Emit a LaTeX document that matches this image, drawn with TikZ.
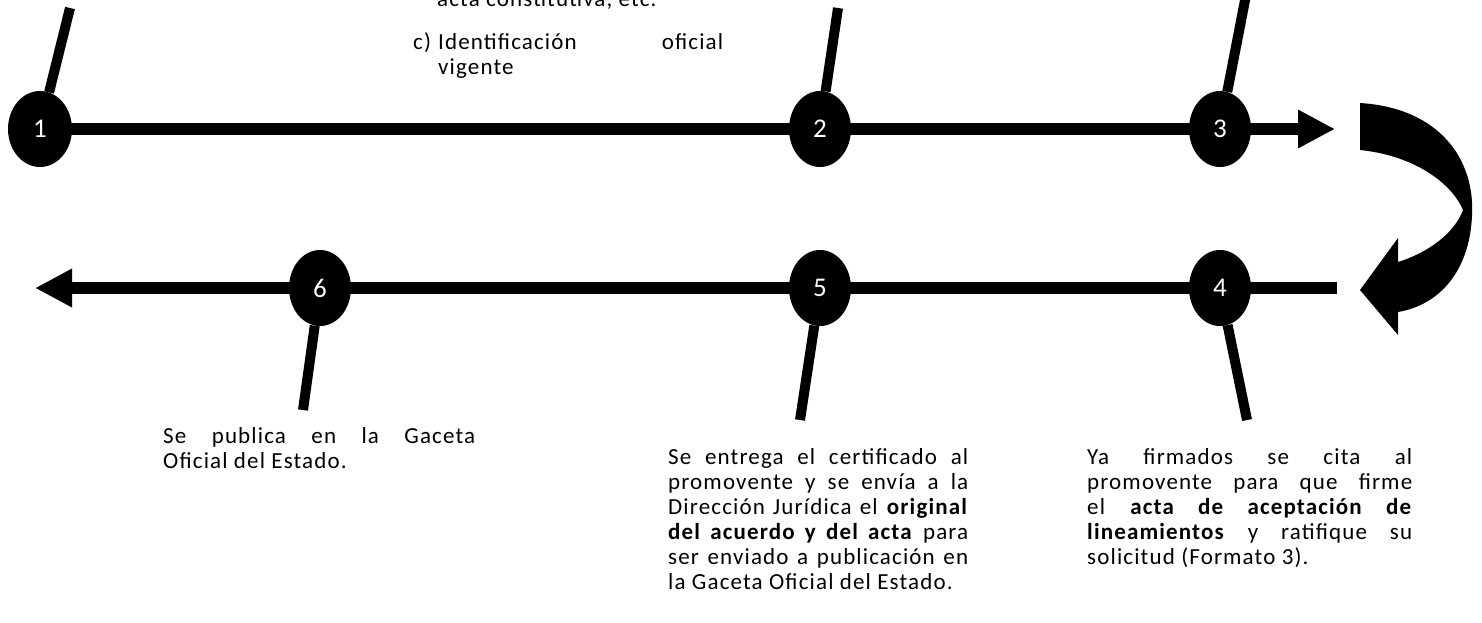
\documentclass[tikz,border=0pt]{standalone}
\usepackage{fontspec}
\setmainfont{Carlito}[LetterSpace=5]
\newfontfamily\digitfont{Carlito}
\usetikzlibrary{arrows.meta,shapes.geometric,backgrounds}
\hyphenpenalty=10000
\exhyphenpenalty=10000
\newcommand{\descfont}{\fontsize{23}{25}\selectfont}
\begin{document}
\begin{tikzpicture}[x=1pt,y=-1pt,
  stepdot/.style={ellipse,fill=black,text=white,inner sep=0pt,minimum width=62pt,minimum height=76pt,font=\digitfont\fontsize{27}{27}\selectfont},
  mainline/.style={line width=12pt,-{Triangle[length=37pt,width=36pt]}},
  stick/.style={line width=10pt},
  desc/.style={anchor=north west,inner sep=0pt,align=justify,font=\descfont}]
\useasboundingbox (0,0) rectangle (1482,622);
% step nodes
\node[stepdot,minimum width=64pt] (n1) at (40,129) {1};
\node[stepdot] (n2) at (820,129) {2};
\node[stepdot] (n3) at (1220,129) {3};
\node[stepdot] (n4) at (1220,288) {4};
\node[stepdot] (n5) at (820,288) {5};
\node[stepdot] (n6) at (320,288) {6};
% coordinates
\coordinate (ttip) at (1335,129);
\coordinate (bstart) at (1337,288);
\coordinate (btip) at (35,288);
\coordinate (s1) at (70,8);
\coordinate (s2) at (838,8);
\coordinate (s3) at (1247,-10);
\coordinate (s4) at (1247,420);
\coordinate (s5) at (800,420);
\coordinate (s6) at (303,410);
\begin{scope}[on background layer]
\draw[mainline] (n1.center) -- (ttip);
\draw[mainline] (bstart) -- (btip);
\end{scope}
% sticks
\draw[stick] (n1) -- (s1);
\draw[stick] (n2) -- (s2);
\draw[stick] (n3) -- (s3);
\draw[stick] (n4) -- (s4);
\draw[stick] (n5) -- (s5);
\draw[stick] (n6) -- (s6);
% curved arrow
\fill[black] (1360,103) .. controls (1440,108) and (1475,160) .. (1472,215)
  .. controls (1470,270) and (1440,305) .. (1398,312)
  -- (1398,335) -- (1360,290) -- (1398,238) -- (1398,262)
  .. controls (1430,252) and (1455,232) .. (1463,210)
  .. controls (1450,180) and (1410,155) .. (1360,150) -- cycle;
% texts
\node[desc,anchor=base west] (tcut) at (437,6) {acta constitutiva, etc.};
\node[desc,anchor=base west] (tc) at (413,49) {c)};
\node[desc,text width=285pt] (ttop) at (438,33) {Identificación oficial\linebreak vigente};
\node[desc,text width=312pt] (t6) at (163,427) {Se publica en la Gaceta\linebreak Oficial del Estado.};
\node[desc,text width=300pt] (t5) at (668,448) {Se entrega el certificado al\linebreak promovente y se envía a la\linebreak Dirección Jurídica el \textbf{original}\linebreak \textbf{del acuerdo y del acta} para\linebreak ser enviado a publicación en\linebreak la Gaceta Oficial del Estado.};
\node[desc,text width=325pt] (t4) at (1087,448) {Ya firmados se cita al\linebreak promovente para que firme\linebreak el \textbf{acta de aceptación de}\linebreak \textbf{lineamientos} y ratifique su\linebreak solicitud (Formato 3).};
\end{tikzpicture}
\end{document}
